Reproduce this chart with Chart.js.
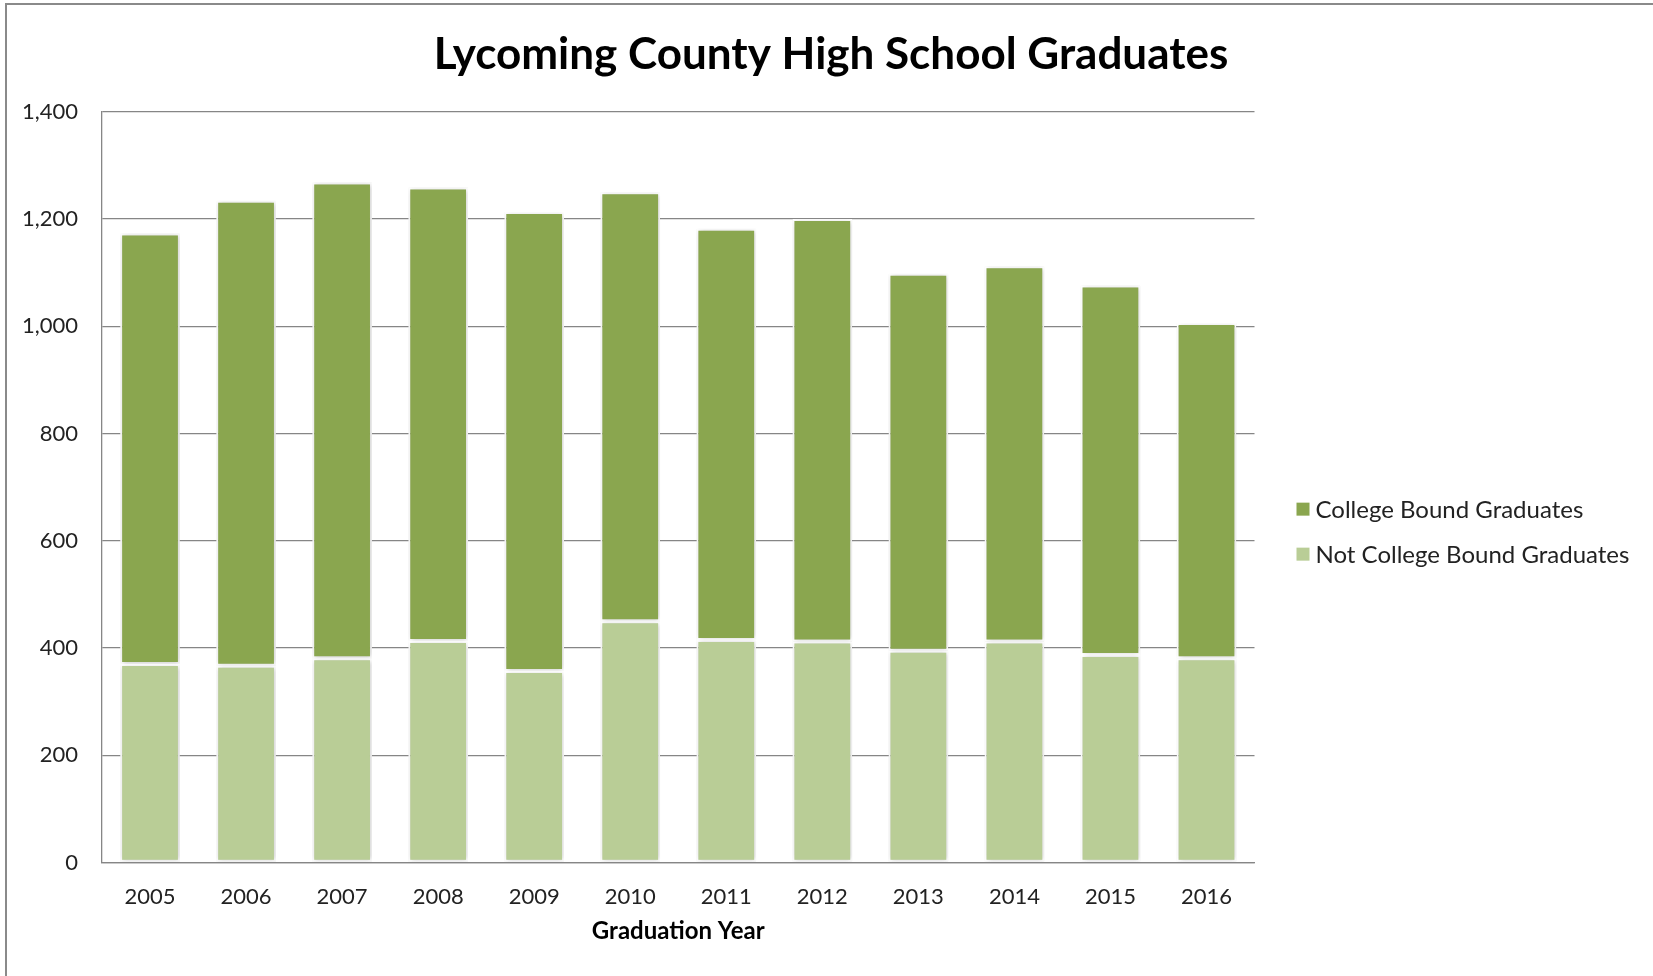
<!DOCTYPE html>
<html>
<head>
<meta charset="utf-8">
<title>Lycoming County High School Graduates</title>
<script src="https://cdn.jsdelivr.net/npm/chart.js@4.4.1/dist/chart.umd.min.js"></script>
<style>
  html, body { margin: 0; padding: 0; background: #ffffff; }
  #wrap { position: relative; width: 1653px; height: 976px; overflow: hidden; background: #ffffff; }
  #frame { position: absolute; left: 5px; top: 3px; width: 2000px; height: 2000px;
           border-left: 2px solid #8a8a8a; border-top: 2px solid #8a8a8a; }
  #chart { position: absolute; left: 0; top: 0; }
</style>
</head>
<body>
<div id="wrap">
  <div id="frame"></div>
  <canvas id="chart" width="1653" height="976"></canvas>
</div>
<script>
// Graduation years on the category axis
const years = ['2005', '2006', '2007', '2008', '2009', '2010', '2011', '2012', '2013', '2014', '2015', '2016'];

// Graduates not going on to college (lower segment)
const notCollegeBound = [370, 367, 381, 413, 357, 450, 415, 412, 395, 412, 387, 381];

// Graduates going on to college (upper segment)
const collegeBound = [803, 867, 887, 846, 856, 800, 767, 788, 703, 700, 689, 625];

// Value axis ticks
const yTicks = { min: 0, max: 1400, step: 200 };

const seriesNames = ['Not College Bound Graduates', 'College Bound Graduates'];
const darkGreen = '#8aa64f';
const lightGreen = '#b9cd96';

const tickFont = { family: 'Lato, "Open Sans", sans-serif', size: 22 };
const textColor = '#222222';
const gridColor = '#868686';

// Soft halo behind the bars
const barShadow = {
  id: 'barShadow',
  beforeDatasetsDraw(chart) {
    const ctx = chart.ctx;
    ctx.save();
    ctx.shadowColor = 'rgba(0,0,0,0.22)';
    ctx.shadowBlur = 5;
    ctx.shadowOffsetX = 1;
    ctx.shadowOffsetY = 0.5;
  },
  afterDatasetsDraw(chart) {
    chart.ctx.restore();
  }
};

// Legend to the right of the plot, top series listed first
const sideLegend = {
  id: 'sideLegend',
  afterDraw(chart) {
    const ctx = chart.ctx;
    const area = chart.chartArea;
    const mid = (area.top + area.bottom) / 2;
    const x = area.right + 42;
    const items = chart.data.datasets.slice().reverse();
    ctx.save();
    ctx.font = '24px Lato, "Open Sans", sans-serif';
    ctx.textBaseline = 'middle';
    ctx.textAlign = 'left';
    items.forEach((ds, i) => {
      const y = mid + 22 + i * 45;
      ctx.fillStyle = ds.backgroundColor;
      ctx.fillRect(x, y - 6.5, 13, 13);
      ctx.fillStyle = textColor;
      ctx.fillText(ds.label, x + 19, y + 1);
    });
    ctx.restore();
  }
};

new Chart(document.getElementById('chart'), {
  type: 'bar',
  data: {
    labels: years,
    datasets: [
      {
        label: seriesNames[0],
        data: notCollegeBound,
        backgroundColor: lightGreen,
        borderColor: '#ffffff',
        borderWidth: 2,
        borderSkipped: false
      },
      {
        label: seriesNames[1],
        data: collegeBound,
        backgroundColor: darkGreen,
        borderColor: '#ffffff',
        borderWidth: 2,
        borderSkipped: false
      }
    ]
  },
  options: {
    responsive: false,
    animation: false,
    devicePixelRatio: 1,
    layout: { padding: { left: 22, right: 13, top: 0, bottom: 30 } },
    datasets: { bar: { barPercentage: 1, categoryPercentage: 0.622 } },
    plugins: {
      legend: { display: false },
      tooltip: { enabled: false },
      title: {
        display: true,
        text: 'Lycoming County High School Graduates',
        color: '#000000',
        font: { family: 'Lato, "Open Sans", sans-serif', size: 44, weight: 'bold' },
        padding: { top: 28, bottom: 31 }
      }
    },
    scales: {
      x: {
        stacked: true,
        grid: { display: false, drawTicks: false },
        border: { display: true, color: gridColor, width: 1.3 },
        ticks: { color: textColor, font: tickFont, padding: 21 },
        title: {
          display: true,
          text: 'Graduation Year',
          color: '#000000',
          font: { family: 'Lato, "Open Sans", sans-serif', size: 24, weight: 'bold' },
          padding: { top: 0, bottom: 0 }
        },
        afterFit(scale) { scale.height = 83.5; }
      },
      y: {
        stacked: true,
        min: yTicks.min,
        max: yTicks.max,
        grid: { color: gridColor, lineWidth: 1.3, drawTicks: false },
        border: { display: true, color: gridColor, width: 1.3 },
        ticks: { stepSize: yTicks.step, color: textColor, font: tickFont, padding: 24 },
        afterFit(scale) { scale.width = 80; }
      },
      // empty band on the right that holds the legend
      legendBand: {
        type: 'linear',
        position: 'right',
        grid: { display: false, drawTicks: false },
        border: { display: false },
        ticks: { display: false },
        afterFit(scale) { scale.width = 385.5; }
      }
    }
  },
  plugins: [barShadow, sideLegend]
});
</script>
</body>
</html>
